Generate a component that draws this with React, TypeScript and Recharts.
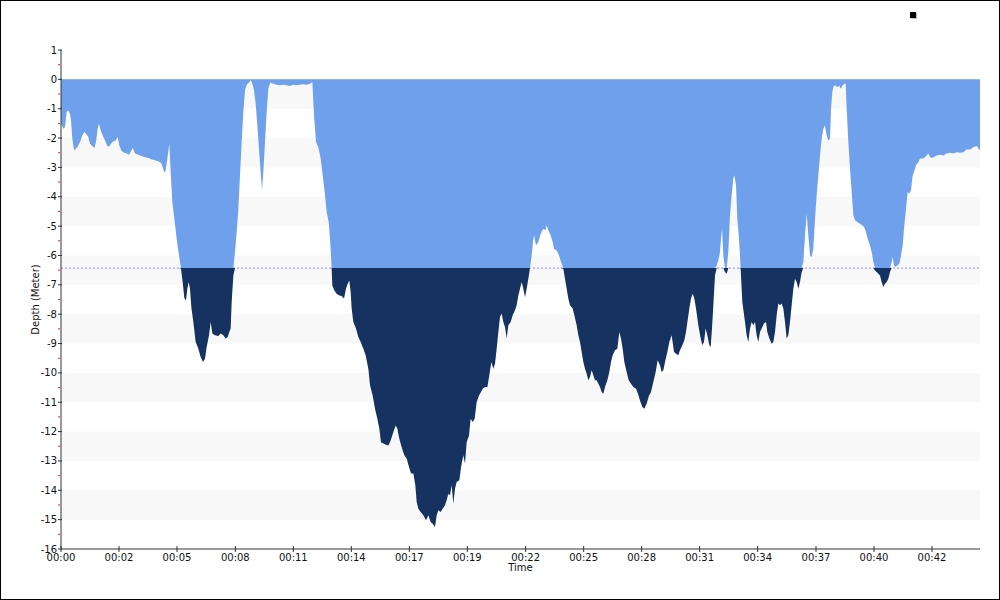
import { AreaChart, Area, XAxis, YAxis, ReferenceArea, ReferenceLine, Label } from 'recharts'

// elapsed time (s) and depth (m)
const timeSec = [
  0, 7, 12, 17, 22, 27, 30, 34, 39, 44, 50, 57, 64, 70, 75, 82, 87, 94, 100, 105,
  110, 114, 119, 125, 132, 138, 144, 150, 157, 164, 170, 175, 182, 190, 197, 204, 210, 215, 222, 232,
  242, 252, 262, 272, 282, 292, 300, 305, 310, 314, 319, 325, 329, 334, 340, 347, 354, 360, 365, 370,
  375, 379, 383, 387, 391, 397, 404, 412, 419, 426, 432, 437, 444, 449, 454, 462, 472, 479, 487, 494,
  500, 505, 509, 512, 517, 522, 527, 532, 537, 542, 547, 552, 557, 564, 569, 574, 579, 584, 589, 594,
  599, 603, 607, 612, 617, 622, 628, 637, 647, 657, 667, 677, 687, 697, 707, 717, 727, 737, 747, 754,
  756, 759, 765, 772, 779, 785, 791, 797, 803, 807, 810, 812, 814, 820, 827, 835, 842, 849, 855, 860,
  865, 869, 872, 877, 885, 892, 899, 907, 914, 922, 927, 935, 942, 949, 955, 960, 967, 975, 982, 989,
  997, 1004, 1009, 1015, 1022, 1030, 1037, 1044, 1050, 1057, 1063, 1067, 1072, 1079, 1087, 1095, 1102, 1109, 1115, 1122,
  1127, 1132, 1139, 1145, 1152, 1157, 1162, 1167, 1172, 1177, 1182, 1187, 1195, 1201, 1207, 1212, 1217, 1224, 1229, 1235,
  1241, 1247, 1254, 1260, 1265, 1272, 1279, 1285, 1291, 1297, 1302, 1307, 1312, 1317, 1322, 1327, 1332, 1337, 1342, 1349,
  1355, 1362, 1367, 1372, 1377, 1382, 1387, 1392, 1397, 1402, 1407, 1412, 1416, 1419, 1425, 1432, 1439, 1447, 1454, 1457,
  1462, 1469, 1475, 1479, 1487, 1494, 1500, 1507, 1512, 1517, 1522, 1527, 1535, 1540, 1547, 1552, 1557, 1562, 1567, 1572,
  1577, 1582, 1587, 1592, 1597, 1602, 1607, 1612, 1617, 1622, 1627, 1632, 1639, 1645, 1650, 1655, 1662, 1669, 1675, 1680,
  1685, 1690, 1697, 1703, 1710, 1717, 1725, 1731, 1737, 1744, 1750, 1757, 1764, 1770, 1777, 1784, 1790, 1797, 1802, 1807,
  1812, 1819, 1825, 1832, 1839, 1845, 1852, 1857, 1864, 1870, 1875, 1880, 1885, 1890, 1895, 1900, 1905, 1912, 1919, 1924,
  1929, 1934, 1939, 1945, 1949, 1953, 1957, 1962, 1967, 1972, 1977, 1980, 1983, 1987, 1992, 1997, 2002, 2007, 2012, 2017,
  2020, 2025, 2029, 2034, 2039, 2044, 2052, 2057, 2062, 2067, 2072, 2077, 2082, 2087, 2092, 2097, 2102, 2109, 2115, 2119,
  2125, 2132, 2137, 2142, 2147, 2152, 2157, 2162, 2167, 2172, 2177, 2182, 2187, 2192, 2197, 2202, 2207, 2212, 2217, 2222,
  2227, 2232, 2237, 2242, 2247, 2252, 2257, 2262, 2267, 2272, 2277, 2282, 2287, 2292, 2297, 2302, 2307, 2310, 2314, 2317,
  2322, 2329, 2335, 2340, 2345, 2350, 2354, 2357, 2362, 2367, 2372, 2377, 2382, 2389, 2397, 2404, 2409, 2415, 2420, 2427,
  2433, 2437, 2442, 2447, 2452, 2457, 2462, 2467, 2472, 2477, 2482, 2487, 2492, 2495, 2499, 2504, 2509, 2515, 2520, 2525,
  2530, 2535, 2540, 2545, 2550, 2555, 2559, 2565, 2572, 2577, 2587, 2597, 2602, 2609, 2617, 2627, 2637, 2647, 2657, 2667,
  2677, 2687, 2697, 2707, 2717, 2727, 2737, 2747, 2753, 2757,
]
const depthM = [
  -1.5, -1.68, -1.62, -1.11, -1.06, -1.17, -1.4, -2.02, -2.42, -2.36, -2.3, -2.13, -1.91, -1.79, -1.85, -1.96, -2.19, -2.27, -2.34, -2.13,
  -1.68, -1.51, -1.74, -1.91, -2.08, -2.25, -2.3, -2.19, -2.11, -2.08, -1.96, -2.25, -2.45, -2.5, -2.53, -2.57, -2.45, -2.34, -2.53, -2.57,
  -2.61, -2.65, -2.68, -2.73, -2.76, -2.79, -2.84, -2.99, -3.18, -3.1, -2.7, -2.19, -3.16, -4.18, -4.75, -5.43, -6.0, -6.45, -6.9, -7.45,
  -7.53, -7.13, -6.9, -7.13, -7.76, -8.27, -8.95, -9.18, -9.46, -9.63, -9.52, -9.12, -8.72, -8.27, -8.66, -8.72, -8.74, -8.66, -8.72, -8.83,
  -8.78, -8.61, -8.49, -7.59, -6.68, -5.88, -5.2, -4.41, -3.27, -2.13, -1.11, -0.37, -0.18, -0.11, -0.03, -0.15, -0.37, -0.83, -1.57, -2.36,
  -3.16, -3.78, -3.16, -2.13, -1.11, -0.3, -0.11, -0.15, -0.18, -0.2, -0.18, -0.2, -0.23, -0.18, -0.2, -0.18, -0.17, -0.18, -0.15, -0.09,
  -0.55, -1.23, -2.13, -2.31, -2.7, -3.27, -3.84, -4.52, -4.86, -5.43, -6.0, -6.45, -7.02, -7.19, -7.3, -7.36, -7.38, -7.47, -7.13, -6.96,
  -6.85, -7.25, -7.81, -8.27, -8.49, -8.78, -8.95, -9.18, -9.4, -9.86, -10.42, -10.77, -11.22, -11.56, -11.9, -12.36, -12.41, -12.45, -12.47, -12.3,
  -12.01, -11.79, -11.9, -12.24, -12.53, -12.81, -12.92, -13.21, -13.43, -13.43, -13.83, -14.4, -14.63, -14.74, -14.85, -15.02, -14.85, -15.08, -15.14, -15.25,
  -14.85, -14.68, -14.74, -14.63, -14.51, -14.34, -14.12, -14.17, -13.83, -14.46, -13.95, -13.72, -13.66, -13.15, -12.81, -13.09, -12.36, -12.13, -11.56, -11.67,
  -11.56, -10.99, -10.77, -10.65, -10.54, -10.48, -10.48, -10.08, -9.63, -9.86, -9.69, -9.18, -8.61, -8.1, -7.98, -8.27, -8.44, -8.83, -8.38, -8.27,
  -8.04, -7.87, -7.7, -7.36, -7.13, -6.9, -7.13, -7.42, -7.13, -6.79, -6.43, -6.0, -5.54, -5.31, -5.66, -5.54, -5.26, -5.09, -5.14, -4.97,
  -5.14, -5.31, -5.54, -5.77, -5.83, -6.0, -6.22, -6.45, -6.79, -7.13, -7.47, -7.7, -7.81, -8.04, -8.38, -8.72, -8.95, -9.29, -9.63, -9.86,
  -10.03, -10.25, -10.14, -9.91, -10.08, -10.25, -10.25, -10.37, -10.48, -10.65, -10.71, -10.48, -10.25, -9.97, -9.63, -9.4, -9.23, -9.18, -8.61, -8.83,
  -9.18, -9.63, -9.97, -10.25, -10.37, -10.48, -10.54, -10.71, -10.94, -11.16, -11.22, -11.05, -10.77, -10.65, -10.31, -9.97, -9.57, -9.74, -9.97, -9.91,
  -9.63, -9.29, -8.95, -8.72, -9.29, -9.35, -9.4, -9.23, -9.06, -8.89, -8.61, -8.21, -7.81, -7.47, -7.3, -7.47, -7.81, -8.38, -8.83, -9.06,
  -8.95, -8.49, -8.72, -9.06, -9.12, -8.49, -7.7, -6.68, -6.34, -6.17, -5.88, -5.43, -5.09, -6.0, -6.56, -6.62, -5.88, -4.63, -3.95, -3.38,
  -3.27, -3.61, -4.75, -5.43, -6.45, -7.59, -8.27, -8.72, -8.95, -8.49, -8.27, -8.38, -8.27, -8.72, -8.95, -8.61, -8.49, -8.32, -8.27, -8.61,
  -8.83, -9.01, -8.95, -8.61, -8.04, -7.64, -7.7, -7.64, -7.81, -8.27, -8.83, -8.72, -8.27, -7.7, -7.13, -6.79, -6.9, -7.13, -6.9, -6.56,
  -6.22, -5.31, -4.58, -5.31, -6.0, -6.05, -5.77, -4.75, -3.95, -3.27, -2.59, -2.02, -1.68, -1.57, -1.91, -2.08, -2.02, -1.0, -0.43, -0.26,
  -0.2, -0.26, -0.23, -0.32, -0.2, -0.15, -0.15, -1.0, -2.13, -3.04, -3.84, -4.63, -4.8, -4.86, -4.92, -4.97, -5.03, -5.2, -5.43, -5.66,
  -5.94, -6.22, -6.51, -6.56, -6.62, -6.68, -6.9, -7.07, -6.96, -6.9, -6.79, -6.56, -6.22, -6.05, -6.34, -6.39, -6.34, -6.28, -6.0, -5.66,
  -4.97, -4.41, -3.84, -3.9, -3.78, -3.27, -3.16, -2.93, -2.82, -2.7, -2.7, -2.59, -2.53, -2.68, -2.65, -2.59, -2.57, -2.59, -2.53, -2.5,
  -2.53, -2.48, -2.5, -2.48, -2.39, -2.39, -2.31, -2.27, -2.36, -2.42,
]

const safetyDepth = -6.43
const timeEnd = 2757

const xTickValues = [0, 174, 348, 523, 697, 871, 1045, 1219, 1394, 1568, 1742, 1916, 2090, 2265, 2439, 2613]
const xTickLabels = [
  '00:00', '00:02', '00:05', '00:08', '00:11', '00:14', '00:17', '00:19',
  '00:22', '00:25', '00:28', '00:31', '00:34', '00:37', '00:40', '00:42',
]
const yMajorTicks = [1, 0, -1, -2, -3, -4, -5, -6, -7, -8, -9, -10, -11, -12, -13, -14, -15, -16]
const yMinorTicks = [0.5, -0.5, -1.5, -2.5, -3.5, -4.5, -5.5, -6.5, -7.5, -8.5, -9.5, -10.5, -11.5, -12.5, -13.5, -14.5, -15.5]
// shaded horizontal bands [top, bottom]
const bands = [[0, -1], [-2, -3], [-4, -5], [-6, -7], [-8, -9], [-10, -11], [-12, -13], [-14, -15]]

const FONT = '"DejaVu Sans", Verdana, sans-serif'
const LIGHT = '#6fa0ec'
const DARK = '#163260'

function DepthTick(props: any) {
  const { x, y, payload } = props
  const v = payload.value
  if (!Number.isInteger(v)) {
    return <line x1={x - 3} x2={x - 1} y1={y} y2={y} stroke="#e03030" />
  }
  return (
    <g>
      <line x1={x - 3} x2={x + 1} y1={y} y2={y} stroke="#333" />
      <text x={x - 4} y={y} dy="0.35em" textAnchor="end" fontSize={10} fontFamily={FONT} fill="#111">
        {v}
      </text>
    </g>
  )
}

function TimeTick(props: any) {
  const { x, y, payload } = props
  const i = xTickValues.indexOf(payload.value)
  return (
    <g>
      <line x1={x} x2={x} y1={y - 3} y2={y + 3} stroke="#333" />
      <text x={x} y={y + 12} textAnchor="middle" fontSize={10} fontFamily={FONT} fill="#111">
        {xTickLabels[i]}
      </text>
    </g>
  )
}

export default function App() {
  const rows = timeSec.map((t, i) => ({ t, depth: depthM[i] }))

  return (
    <div
      style={{
        position: 'absolute',
        left: 0,
        top: 0,
        width: 1000,
        height: 600,
        background: '#fff',
        outline: '1px solid #000',
        outlineOffset: -1,
      }}
    >
      <AreaChart width={1000} height={600} data={rows} margin={{ top: 50, right: 20, bottom: 21, left: 0 }}>
        {bands.map(([y1, y2]) => (
          <ReferenceArea key={y1} y1={y1} y2={y2} fill="#f8f8f8" fillOpacity={1} stroke="none" zIndex={-90} />
        ))}
        <ReferenceLine y={safetyDepth} stroke="#8888ff" strokeDasharray="2 2" zIndex={-80} />
        <Area
          type="linear"
          dataKey={(r: any) => [Math.max(r.depth, safetyDepth), 0]}
          stroke="none"
          fill={LIGHT}
          fillOpacity={1}
          dot={false}
          activeDot={false}
          isAnimationActive={false}
        />
        <Area
          type="linear"
          dataKey={(r: any) => [Math.min(r.depth, safetyDepth), safetyDepth]}
          stroke="none"
          fill={DARK}
          fillOpacity={1}
          dot={false}
          activeDot={false}
          isAnimationActive={false}
        />
        <XAxis
          type="number"
          dataKey="t"
          domain={[0, timeEnd]}
          ticks={xTickValues}
          interval={0}
          height={30}
          tickSize={0}
          tickMargin={0}
          tick={<TimeTick />}
          axisLine={{ stroke: '#333' }}
        >
          <Label
            content={(p: any) => {
              const vb = p.viewBox
              return (
                <text x={vb.x + vb.width / 2} y={vb.y + 22} textAnchor="middle" fontSize={10} fontFamily={FONT} fill="#111">
                  Time
                </text>
              )
            }}
          />
        </XAxis>
        <YAxis
          type="number"
          domain={[-16, 1]}
          ticks={[...yMajorTicks, ...yMinorTicks]}
          interval={0}
          width={61}
          tickSize={0}
          tickMargin={0}
          tick={<DepthTick />}
          axisLine={{ stroke: '#333' }}
          allowDataOverflow
        >
          <Label
            content={(p: any) => {
              const vb = p.viewBox
              const cy = vb.y + vb.height / 2
              return (
                <text
                  x={35}
                  y={cy}
                  transform={`rotate(-90, 35, ${cy})`}
                  textAnchor="middle"
                  dy="0.35em"
                  fontSize={10}
                  fontFamily={FONT}
                  fill="#111"
                >
                  Depth (Meter)
                </text>
              )
            }}
          />
        </YAxis>
      </AreaChart>
      <svg width={20} height={20} style={{ position: 'absolute', left: 905, top: 7 }}>
        <rect x={6} y={6} width={6} height={6} fill="#bbb" />
        <rect x={5} y={5} width={6} height={6} fill="#000" />
      </svg>
    </div>
  )
}
